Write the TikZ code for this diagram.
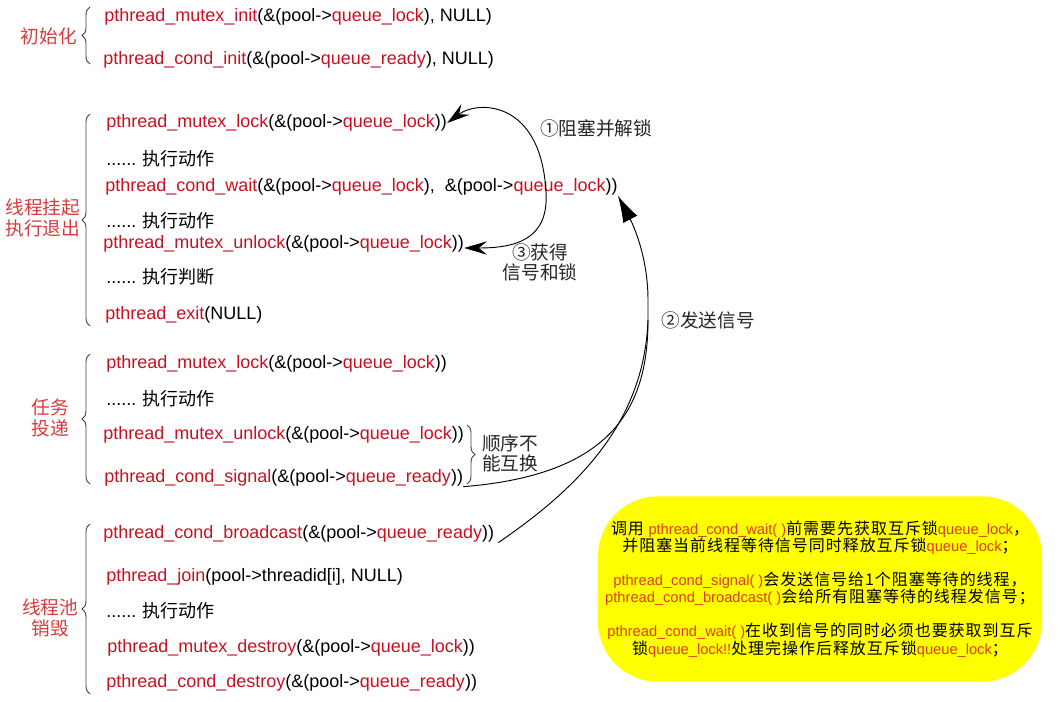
\documentclass[tikz,border=0pt]{standalone}
\usepackage{fontspec}
\setmainfont{Liberation Sans}
\newfontfamily\cjk{Noto Sans CJK SC}
\newfontfamily\cjkwide{Noto Sans CJK SC}[LetterSpace=6]
\usepackage{tikz}
\usetikzlibrary{arrows.meta,decorations.pathreplacing,positioning}
\tikzset{node distance=2cm, auto}

\definecolor{codered}{RGB}{200,16,32}
\definecolor{labelred}{RGB}{214,60,60}
\definecolor{notered}{RGB}{224,60,16}
\definecolor{notebg}{RGB}{255,255,0}

\newcommand\fn[1]{\textcolor{codered}{#1}}
\newcommand\nfn[1]{{\color{notered}\rmfamily\fontsize{11}{13}\selectfont #1}}
\newcommand\zh[1]{{\cjk #1}}

\begin{document}
\begin{tikzpicture}[
  x=0.75pt, y=-0.75pt,
  font=\fontsize{13.5}{16}\selectfont,
  every node/.style={inner sep=0pt},
  code/.style={anchor=west,yshift=-1.5pt},
  group/.style={align=center,text=labelred,font=\cjk\fontsize{14}{15.5}\selectfont},
  remark/.style={align=center,text=black!85,font=\cjk\fontsize{14}{15}\selectfont},
  note/.style={fill=notebg,rounded corners=45pt,minimum width=333pt,minimum height=139pt,
    align=center,font=\cjkwide\fontsize{12}{13}\selectfont},
  curly/.style={draw=black!75,line width=0.7pt,decorate,decoration={brace,amplitude=6pt}},
  flow/.style={-{Stealth[length=17pt,width=10pt,inset=6pt]},line width=0.7pt},
  signal/.style={line width=0.7pt},
  bigtip/.style={-{Latex[length=20pt,width=12pt]}}]

  \useasboundingbox (0,0) rectangle (1063,702);

  % Group labels on the left
  \node[group] (ginit) at (49,36) {初始化};
  \node[group] (gwait) at (43,218) {线程挂起\\执行退出};
  \node[group] (gpost) at (50,418) {任务\\投递};
  \node[group] (gfree) at (50,618) {线程池\\销毁};

  % Initialisation
  \node[code] (minit) at (104,15) {\fn{pthread\_mutex\_init}(\&(pool->\fn{queue\_lock}), NULL)};
  \node[code] (cinit) at (103,58) {\fn{pthread\_cond\_init}(\&(pool->\fn{queue\_ready}), NULL)};

  % Worker thread
  \node[code] (lock) at (106,121) {\fn{pthread\_mutex\_lock}(\&(pool->\fn{queue\_lock}))};
  \node[code] (act1) at (106,157) {...... \zh{执行动作}};
  \node[code] (wait) at (105,185) {\fn{pthread\_cond\_wait}(\&(pool->\fn{queue\_lock}),\ \ \&(pool->\fn{queue\_lock}))};
  \node[code] (act2) at (106,219) {...... \zh{执行动作}};
  \node[code] (unlock) at (103,242) {\fn{pthread\_mutex\_unlock}(\&(pool->\fn{queue\_lock}))};
  \node[code] (judge) at (106,275) {...... \zh{执行判断}};
  \node[code] (exit) at (105,313) {\fn{pthread\_exit}(NULL)};

  % Posting a task
  \node[code] (lock2) at (106,362) {\fn{pthread\_mutex\_lock}(\&(pool->\fn{queue\_lock}))};
  \node[code] (act3) at (106,397) {...... \zh{执行动作}};
  \node[code] (unlock2) at (103,433) {\fn{pthread\_mutex\_unlock}(\&(pool->\fn{queue\_lock}))};
  \node[code] (signal) at (104,476) {\fn{pthread\_cond\_signal}(\&(pool->\fn{queue\_ready}))};

  % Destroying the pool
  \node[code] (bcast) at (103,532) {\fn{pthread\_cond\_broadcast}(\&(pool->\fn{queue\_ready}))};
  \node[code] (join) at (106,575) {\fn{pthread\_join}(pool->threadid[i], NULL)};
  \node[code] (act4) at (106,609) {...... \zh{执行动作}};
  \node[code] (mdestroy) at (107,646) {\fn{pthread\_mutex\_destroy}(\&(pool->\fn{queue\_lock}))};
  \node[code] (cdestroy) at (106,681) {\fn{pthread\_cond\_destroy}(\&(pool->\fn{queue\_ready}))};

  % Braces
  \draw[curly] (90,64) -- (90,7);
  \draw[curly] (90,326) -- (90,114);
  \draw[curly] (90,484) -- (90,354);
  \draw[curly] (90,694) -- (90,524);
  \draw[curly] (467,425) -- (467,484);

  % Remarks
  \node[remark] (order) at (510,453) {顺序不\\能互换};
  \node[remark] (step1) at (596,128) {①阻塞并解锁};
  \node[remark] (step2) at (708,320) {②发送信号};
  \node[remark] (step3) at (540,262) {③获得\\信号和锁};
  \coordinate (split) at (546,192);
  \coordinate (merge) at (648,320);

  % Note box
  \node[note] (note) at (820,589) {调用 \nfn{pthread\_cond\_wait( )}前需要先获取互斥锁\nfn{queue\_lock}，\\
    并阻塞当前线程等待信号同时释放互斥锁\nfn{queue\_lock}；\\[12.5pt]
    \nfn{pthread\_cond\_signal( )}会发送信号给1个阻塞等待的线程，\\
    \nfn{pthread\_cond\_broadcast( )}会给所有阻塞等待的线程发信号；\\[12.5pt]
    \nfn{pthread\_cond\_wait( )}在收到信号的同时必须也要获取到互斥\\
    锁\nfn{queue\_lock!!}处理完操作后释放互斥锁\nfn{queue\_lock}；};

  % Draw the arrows
  \draw[flow] (split) .. controls (541,100) and (478,100) .. (lock.east);
  \draw[flow] (split) .. controls (549,240) and (515,248) .. ([yshift=-3pt]unlock.east);
  \draw[signal] ([xshift=3pt]bcast.south east) .. controls (575,490) and (644,425) .. (merge);
  \draw[signal] (signal.south east) .. controls (610,475) and (648,410) .. (merge);
  \draw[signal,bigtip] (merge) -- ++(0,-20) .. controls +(0,-50) and (628,215) .. (wait.south east);

\end{tikzpicture}
\end{document}
